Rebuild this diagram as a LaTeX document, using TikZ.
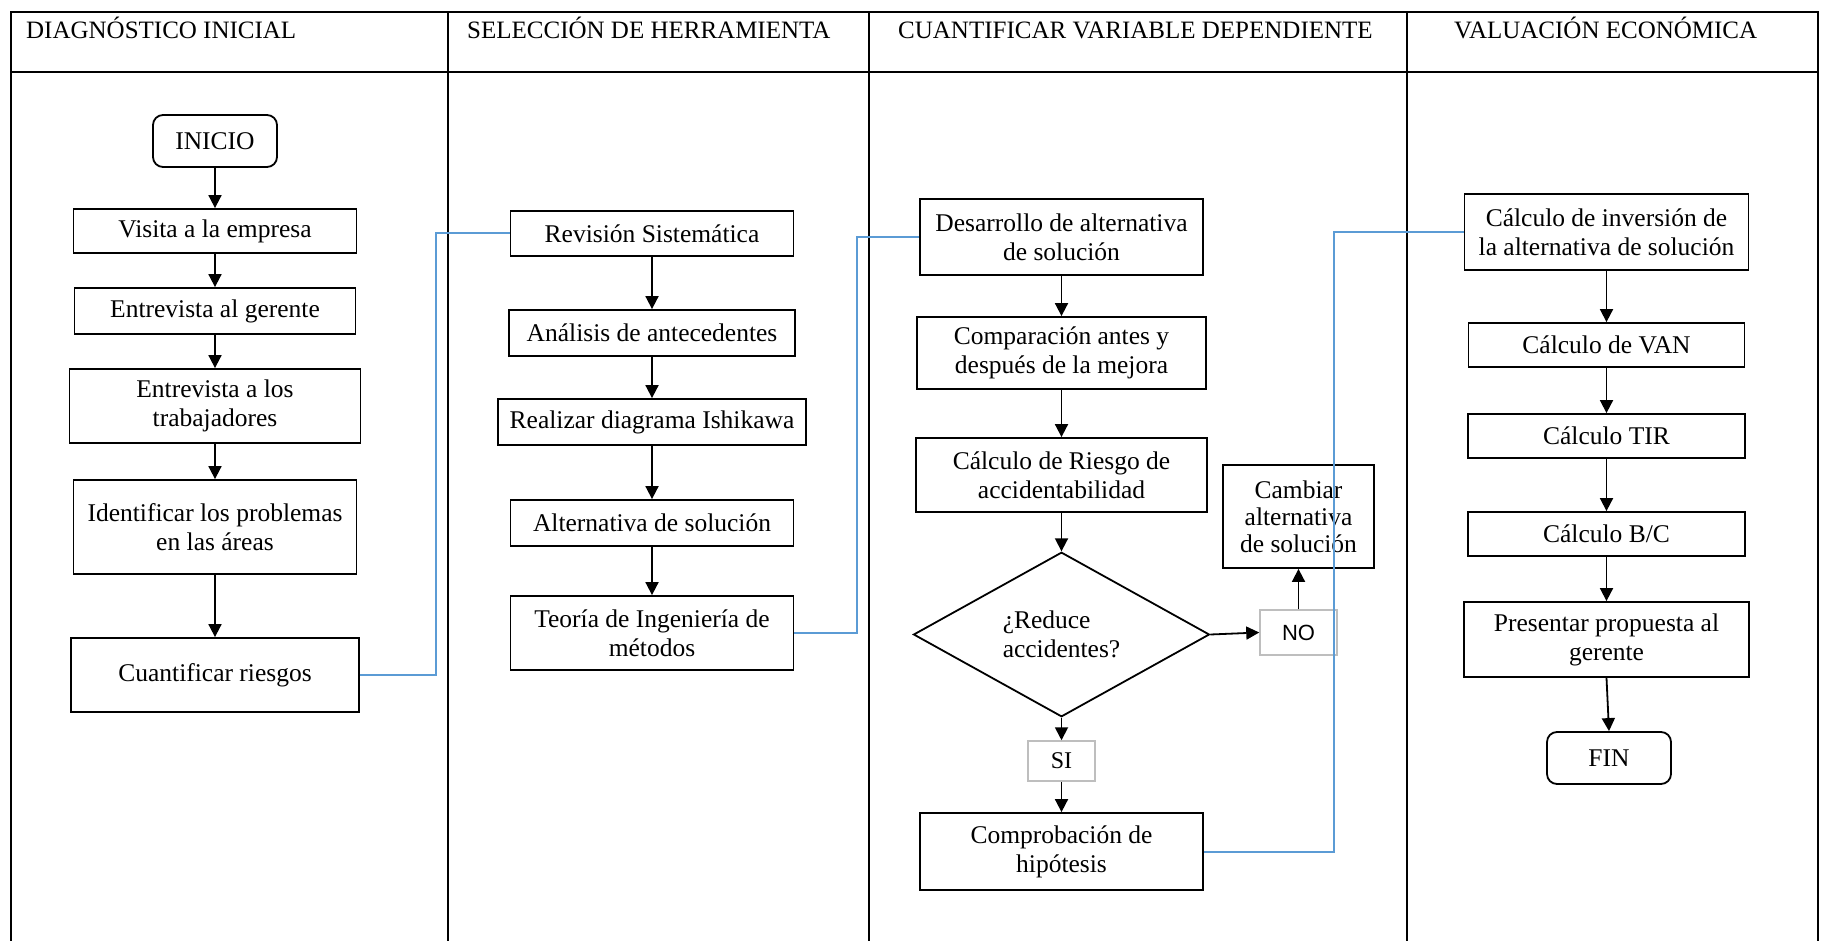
\documentclass[tikz,border=0pt]{standalone}
\usepackage{fontspec}
\setmainfont{Liberation Serif}
\newfontfamily\sansf{Liberation Sans}
\usetikzlibrary{shapes.geometric,arrows.meta}
\definecolor{linkblue}{RGB}{91,155,213}
\definecolor{boxgray}{RGB}{190,190,190}
\begin{document}
\begin{tikzpicture}[x=1pt,y=-1pt,
  box/.style={draw=black, line width=1.8pt, inner sep=0pt, align=center, font=\fontsize{25.5}{29}\selectfont},
  term/.style={box, rounded corners=10pt},
  lbl/.style={draw=boxgray, line width=1.5pt, inner sep=0pt},
  flow/.style={line width=1.8pt, -{Triangle[length=13pt,width=13pt]}},
  link/.style={draw=linkblue, line width=2pt},
  tableline/.style={line width=2.2pt},
  hdr/.style={anchor=base west, inner sep=0pt, font=\fontsize{25}{28}\selectfont}]
\useasboundingbox (0,0) rectangle (1823,941);

% table
\draw[tableline] (11,941) -- (11,12) -- (1818,12) -- (1818,941);
\draw[tableline] (11,72) -- (1818,72);
\draw[tableline] (448,12) -- (448,941);
\draw[tableline] (869,12) -- (869,941);
\draw[tableline] (1407,12) -- (1407,941);

\node[hdr] (h1) at (26,39) {DIAGNÓSTICO INICIAL};
\node[hdr] (h2) at (467,39) {SELECCIÓN DE HERRAMIENTA};
\node[hdr] (h3) at (898,39) {CUANTIFICAR VARIABLE DEPENDIENTE};
\node[hdr] (h4) at (1454,39) {VALUACIÓN ECONÓMICA};

% column 1
\node[term, minimum width=124pt, minimum height=52pt] (ini) at (215,141) {INICIO};
\node[box, minimum width=283pt, minimum height=44pt] (vis) at (215,231) {Visita a la empresa};
\node[box, minimum width=281pt, minimum height=46pt] (ger) at (215,311) {Entrevista al gerente};
\node[box, minimum width=291pt, minimum height=74pt] (tra) at (215,406) {Entrevista a los\\trabajadores};
\node[box, minimum width=283pt, minimum height=94pt] (ide) at (215,527) {Identificar los problemas\\en las áreas};
\node[box, minimum width=288pt, minimum height=74pt] (cua) at (215,675) {Cuantificar riesgos};

% column 2
\node[box, minimum width=283pt, minimum height=45pt] (rev) at (652,233.5) {Revisión Sistemática};
\node[box, minimum width=286pt, minimum height=46pt] (ana) at (652,333) {Análisis de antecedentes};
\node[box, minimum width=308pt, minimum height=46pt] (rea) at (652,422) {Realizar diagrama Ishikawa};
\node[box, minimum width=283pt, minimum height=46pt] (alt) at (652,523) {Alternativa de solución};
\node[box, minimum width=283pt, minimum height=74pt] (teo) at (652,633) {Teoría de Ingeniería de\\métodos};

% column 3
\node[box, minimum width=283pt, minimum height=76pt] (des) at (1061.5,237) {Desarrollo de alternativa\\de solución};
\node[box, minimum width=289pt, minimum height=72pt] (com) at (1061.5,353) {Comparación antes y\\después de la mejora};
\node[box, minimum width=291pt, minimum height=74pt] (rie) at (1061.5,475) {Cálculo de Riesgo de\\accidentabilidad};
\node[box, diamond, align=left, minimum width=296pt, minimum height=151pt] (dec) at (1061.5,634.5) {¿Reduce\\accidentes?};
\node[box, minimum width=151pt, minimum height=103pt, font=\fontsize{25.5}{27}\selectfont] (cam) at (1298.5,516.5) {Cambiar\\alternativa\\de solución};
\node[lbl, minimum width=77pt, minimum height=45pt, font=\sansf\fontsize{22}{24}\selectfont] (no) at (1298.5,632.5) {NO\hspace{11pt}};
\node[lbl, minimum width=67pt, minimum height=40pt, font=\fontsize{24}{26}\selectfont] (si) at (1061.5,761) {\raisebox{-3pt}{SI}\hspace{5pt}};
\node[box, minimum width=283pt, minimum height=77pt] (cpb) at (1061.5,851.5) {Comprobación de\\hipótesis};

% column 4
\node[box, minimum width=284pt, minimum height=76pt] (inv) at (1606.5,232) {Cálculo de inversión de\\la alternativa de solución};
\node[box, minimum width=276pt, minimum height=44pt] (van) at (1606.5,345) {Cálculo de VAN};
\node[box, minimum width=277pt, minimum height=44pt] (tir) at (1606.5,436) {Cálculo TIR};
\node[box, minimum width=277pt, minimum height=44pt] (bc) at (1606.5,534) {Cálculo B/C};
\node[box, minimum width=285pt, minimum height=75pt] (pre) at (1606.5,639.5) {Presentar propuesta al\\gerente};
\node[term, minimum width=124pt, minimum height=52pt] (fin) at (1609,758) {FIN};

% arrows
\draw[flow] (ini.south) -- (vis.north);
\draw[flow] (vis.south) -- (ger.north);
\draw[flow] (ger.south) -- (tra.north);
\draw[flow] (tra.south) -- (ide.north);
\draw[flow] (ide.south) -- (cua.north);

\draw[flow] (rev.south) -- (ana.north);
\draw[flow] (ana.south) -- (rea.north);
\draw[flow] (rea.south) -- (alt.north);
\draw[flow] (alt.south) -- (teo.north);

\draw[flow] (des.south) -- (com.north);
\draw[flow] (com.south) -- (rie.north);
\draw[flow] (rie.south) -- (dec.north);
\draw[flow] (dec.east) -- (no.west);
\draw[flow] (no.north) -- (cam.south);
\draw[flow] (dec.south) -- (si.north);
\draw[flow] (si.south) -- (cpb.north);

\draw[flow] (inv.south) -- (van.north);
\draw[flow] (van.south) -- (tir.north);
\draw[flow] (tir.south) -- (bc.north);
\draw[flow] (bc.south) -- (pre.north);
\draw[flow] (pre.south) -- (fin.north);

% blue links
\draw[link] (cua.east) -- ++(76,0) |- (rev.west);
\draw[link] (teo.east) -- ++(63,0) |- (des.west);
\draw[link] (cpb.east) -- ++(130,0) |- (inv.west);
\end{tikzpicture}
\end{document}
